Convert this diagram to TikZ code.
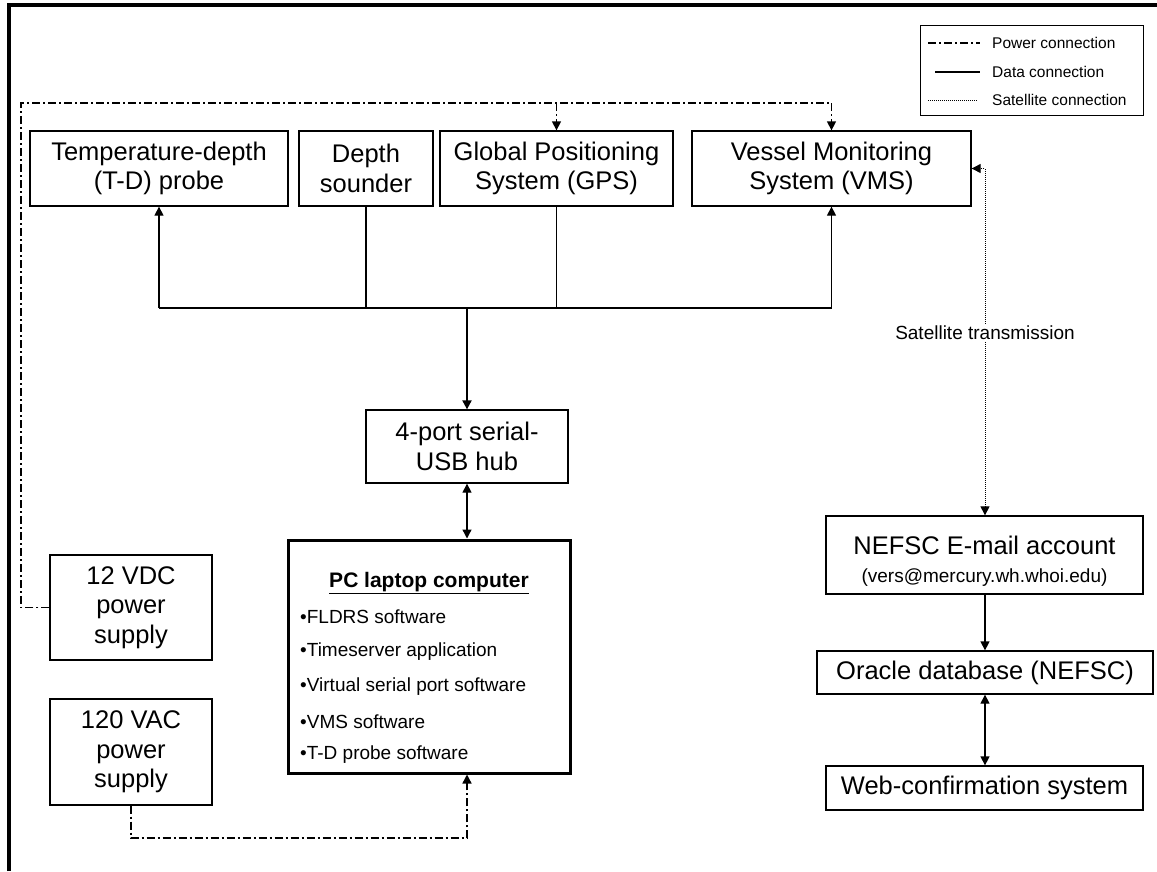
\documentclass[tikz,border=0pt]{standalone}
\usepackage{fontspec}
\setmainfont{Liberation Sans}
\usetikzlibrary{arrows.meta}
\begin{document}
\begin{tikzpicture}[x=1pt,y=-1pt,
  box/.style={draw,line width=1.3pt,inner sep=0pt,align=center,font=\fontsize{25.5}{29.5}\selectfont},
  pcbox/.style={draw,line width=3pt,inner sep=0pt},
  txt/.style={inner sep=0pt,font=\fontsize{19}{22}\selectfont},
  legtxt/.style={inner sep=0pt,anchor=west,font=\fontsize{15.5}{18}\selectfont},
  tip/.style={-{Triangle[length=9pt,width=9pt]}},
  dtip/.style={{Triangle[length=9pt,width=9pt]}-{Triangle[length=9pt,width=9pt]}},
  data/.style={line width=1.3pt},
  power/.style={line width=1.4pt,dash pattern=on 8pt off 3pt on 2pt off 3pt},
  sat/.style={line width=1pt,dash pattern=on 1pt off 1pt}
]
\useasboundingbox (0,0) rectangle (1157,871);
% outer frame (partial)
\draw[line width=4pt] (9,871) -- (9,5) -- (1157,5);

% legend
\node[draw,line width=1pt,minimum width=223pt,minimum height=90pt,inner sep=0pt] (leg) at (1031.5,70) {};
\coordinate (lp1) at (928,43); \coordinate (lp2) at (980,43);
\coordinate (ld1) at (935,72); \coordinate (ld2) at (980,72);
\coordinate (ls1) at (928,100); \coordinate (ls2) at (978,100);
\draw[power] (lp1) -- (lp2);
\draw[data] (ld1) -- (ld2);
\draw[sat] (ls1) -- (ls2);
\node[legtxt] (lpt) at (992,43) {Power connection};
\node[legtxt] (ldt) at (992,72) {Data connection};
\node[legtxt] (lst) at (992,100) {Satellite connection};

% top row
\node[box,minimum width=258pt,minimum height=75pt] (td) at (159,168.5) {Temperature-depth\\(T-D) probe};
\node[box,minimum width=134pt,minimum height=75pt] (ds) at (366,168.5) {Depth\\sounder};
\node[box,minimum width=233pt,minimum height=75pt] (gps) at (556.5,168.5) {Global Positioning\\System (GPS)};
\node[box,minimum width=279pt,minimum height=75pt] (vms) at (831.5,168.5) {Vessel Monitoring\\System (VMS)};

% hub and laptop
\node[box,minimum width=202pt,minimum height=73pt] (hub) at (467,446.5) {4-port serial-\\USB hub};
\node[pcbox,minimum width=282pt,minimum height=233pt] (pc) at (429,656.5) {};
\node[inner sep=0pt,font=\fontsize{21}{24}\selectfont\bfseries] (pct) at (429,583) {\underline{PC laptop computer}};
\node[txt,anchor=west] (b1) at (300,617) {•FLDRS software};
\node[txt,anchor=west] (b2) at (300,652) {•Timeserver application};
\node[txt,anchor=west] (b3) at (300,687) {•Virtual serial port software};
\node[txt,anchor=west] (b4) at (300,722) {•VMS software};
\node[txt,anchor=west] (b5) at (300,755) {•T-D probe software};

% power supplies
\node[box,minimum width=162pt,minimum height=105pt] (vdc) at (131,607.5) {12 VDC\\power\\supply};
\node[box,minimum width=162pt,minimum height=106pt] (vac) at (131,752) {120 VAC\\power\\supply};

% right column
\node[box,minimum width=317pt,minimum height=78pt] (nef) at (984.5,555) {};
\node[inner sep=0pt,font=\fontsize{25.5}{29.5}\selectfont] (neft) at (984.5,545) {NEFSC E-mail account};
\node[txt] (nefm) at (984.5,578) {(vers@mercury.wh.whoi.edu)};
\node[box,minimum width=336pt,minimum height=43pt] (ora) at (985,672.5) {Oracle database (NEFSC)};
\node[box,minimum width=317pt,minimum height=44pt] (web) at (984.5,788) {Web-confirmation system};
\node[txt,fill=white,inner sep=2pt] (st) at (985,333) {Satellite transmission};

% data connections
\coordinate (bL) at (159,308);
\coordinate (bR) at (831.5,308);
\coordinate (bC) at (467,308);
\draw[data,tip] (bL) -- (td.south);
\draw[data,tip] (bL) -- (bR) -- (vms.south);
\draw[data] (ds.south) -- (ds.south |- bL);
\draw[data] (gps.south) -- (gps.south |- bL);
\draw[line width=2pt,tip] (bC) -- (hub.north);
\draw[data,dtip] (hub.south) -- (hub.south |- pc.north);
\draw[data,tip] (nef.south -| ora.north) -- (ora.north);
\draw[data,dtip] (ora.south) -- (web.north -| ora.south);

% power connections
\coordinate (pL) at (21,607.5);
\coordinate (pTL) at (21,103);
\coordinate (pG) at (556.5,103);
\coordinate (pV) at (831.5,103);
\draw[power] (vdc.west) -- (pL) -- (pTL) -- (pV);
\draw[power,tip] (pV) -- (vms.north);
\draw[power,tip] (pG) -- (gps.north);
\coordinate (q1) at (131,838);
\coordinate (q2) at (467,838);
\draw[power,tip] (vac.south) -- (q1) -- (q2) -- (q2 |- pc.south);

% satellite
\draw[sat,tip] (st.north) |- (vms.east);
\draw[sat,tip] (st.south) -- (nef.north -| st.south);
\end{tikzpicture}
\end{document}
